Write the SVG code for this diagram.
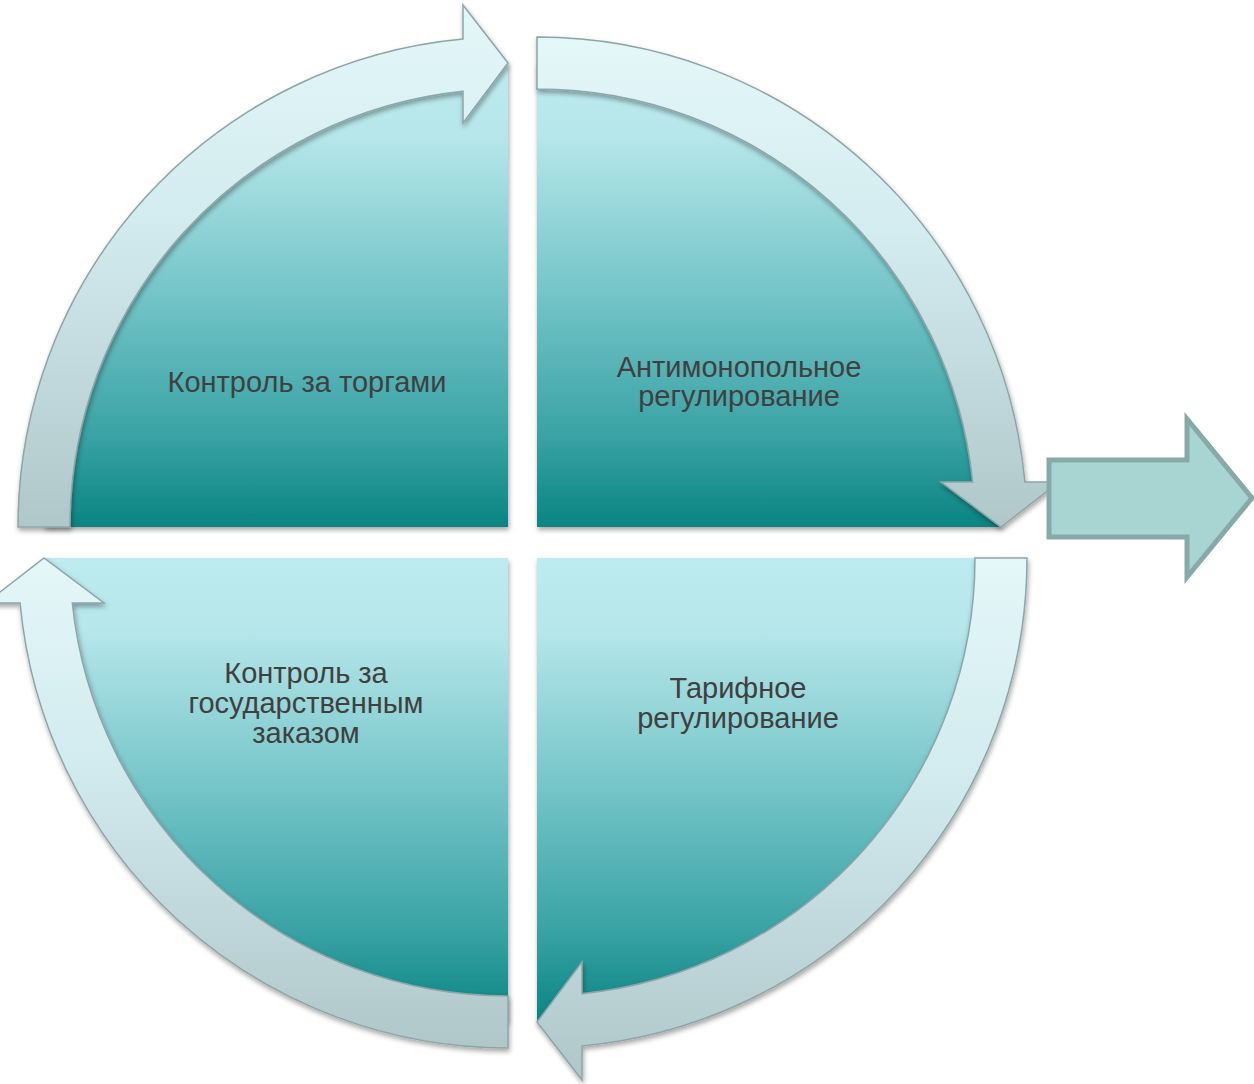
<svg xmlns="http://www.w3.org/2000/svg" width="1254" height="1084" viewBox="0 0 1254 1084">
<defs>
<linearGradient id="pieG" x1="0" y1="0" x2="0" y2="1">
<stop offset="0" stop-color="#bdebef"/>
<stop offset="0.15" stop-color="#b7e7eb"/>
<stop offset="0.5" stop-color="#74c4c7"/>
<stop offset="0.8" stop-color="#3aa3a5"/>
<stop offset="1" stop-color="#0a8482"/>
</linearGradient>
<linearGradient id="bandG" x1="0" y1="0" x2="0" y2="1">
<stop offset="0" stop-color="#e4f7f9"/>
<stop offset="0.4" stop-color="#d3ecef"/>
<stop offset="1" stop-color="#b0c7ca"/>
</linearGradient>
<filter id="sh" x="-10%" y="-10%" width="120%" height="120%">
<feDropShadow dx="1" dy="3" stdDeviation="2.5" flood-color="#000" flood-opacity="0.35"/>
</filter>
<style>
.pie{fill:url(#pieG);filter:url(#sh);}
.band{fill:url(#bandG);stroke:#8ea5a8;stroke-width:1.5;stroke-linejoin:miter;filter:url(#sh);}
.lbl{font-family:"Liberation Sans",Arial,sans-serif;font-size:29px;fill:#404040;text-anchor:middle;}
.big{fill:#a8d4d2;stroke:#87aaa9;stroke-width:5;}
</style>
</defs>
<g id="quad-tl">
<path class="pie" d="M508 527 L44 527 A464 464 0 0 1 508 63 Z"/>
<path class="band" d="M18 527 A490 490 0 0 1 463 39.1 L463 5 L508 63 L463 123 L463 91.3 A438 438 0 0 0 70 527 Z"/>
<text class="lbl" x="307" y="392">Контроль за торгами</text>
</g>
<g id="quad-tr">
<path class="pie" d="M537 527 L537 63 A464 464 0 0 1 1001 527 Z"/>
<path class="band" d="M537 37 A490 490 0 0 1 1024.9 482 L1059 482 L1001 527 L941 482 L972.7 482 A438 438 0 0 0 537 89 Z"/>
<text class="lbl" x="739" y="377">Антимонопольное</text>
<text class="lbl" x="739" y="406">регулирование</text>
</g>
<g id="quad-br">
<path class="pie" d="M537 558 L1001 558 A464 464 0 0 1 537 1022 Z"/>
<path class="band" d="M1027 558 A490 490 0 0 1 582 1045.9 L582 1080 L537 1022 L582 962 L582 993.7 A438 438 0 0 0 975 558 Z"/>
<text class="lbl" x="738" y="698">Тарифное</text>
<text class="lbl" x="738" y="728">регулирование</text>
</g>
<g id="quad-bl">
<path class="pie" d="M508 558 L508 1022 A464 464 0 0 1 44 558 Z"/>
<path class="band" d="M508 1048 A490 490 0 0 1 20.1 603 L-14 603 L44 558 L104 603 L72.3 603 A438 438 0 0 0 508 996 Z"/>
<text class="lbl" x="306" y="683">Контроль за</text>
<text class="lbl" x="306" y="713">государственным</text>
<text class="lbl" x="306" y="743">заказом</text>
</g>
<g id="connectors">
<path id="result-arrow" class="big" d="M1049 460 L1187 460 L1187 419 L1252 498 L1187 577 L1187 537 L1049 537 Z"/>
</g>
</svg>
